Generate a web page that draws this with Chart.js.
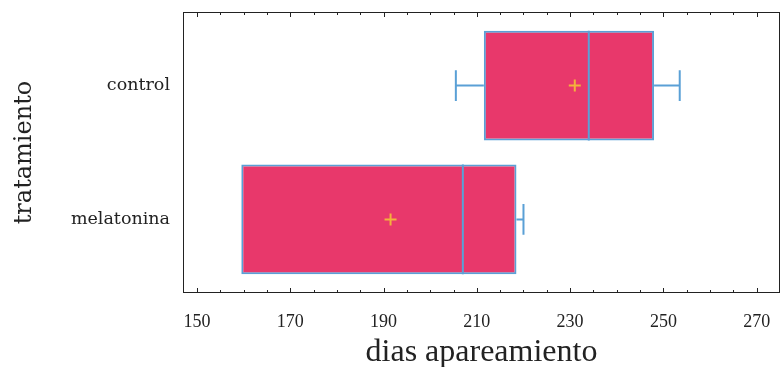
<!DOCTYPE html>
<html>
<head>
<meta charset="utf-8">
<script src="https://cdn.jsdelivr.net/npm/chart.js@4"></script>
<style>
  html, body { margin: 0; padding: 0; background: #fff; }
  #wrap { width: 784px; height: 367px; }
</style>
</head>
<body>
<div id="wrap"><canvas id="chart" width="784" height="367"></canvas></div>
<script>
// values (dias apareamiento)
const categories = ['control', 'melatonina'];
const whiskerLow = [205.5, 159.5];
const q1 = [211.5, 159.5];
const median = [234, 207];
const q3 = [248, 218.5];
const whiskerHigh = [253.5, 220];
const means = [231, 191.5];
const tickLabels = [150, 170, 190, 210, 230, 250, 270];

const FILL = '#e8386b';
const EDGE = '#5aa0d6';
const MEAN = '#f3b23c';
const SERIF = '"Liberation Serif", "DejaVu Serif", serif';
const WIDE_SERIF = '"DejaVu Serif", serif';

// whiskers, medians, means, frame and inward ticks
const boxExtras = {
  id: 'boxExtras',
  afterDatasetsDraw(chart) {
    const ctx = chart.ctx;
    const x = chart.scales.x;
    const area = chart.chartArea;
    const meta = chart.getDatasetMeta(0);
    ctx.save();
    meta.data.forEach((bar, i) => {
      const cy = bar.y;
      const h = bar.height;
      const cap = h * 0.14;
      ctx.strokeStyle = EDGE;
      ctx.lineWidth = 2;
      ctx.beginPath();
      if (whiskerLow[i] < q1[i]) {
        const a = x.getPixelForValue(whiskerLow[i]);
        const b = x.getPixelForValue(q1[i]);
        ctx.moveTo(a, cy); ctx.lineTo(b, cy);
        ctx.moveTo(a, cy - cap); ctx.lineTo(a, cy + cap);
      }
      if (whiskerHigh[i] > q3[i]) {
        const a = x.getPixelForValue(q3[i]);
        const b = x.getPixelForValue(whiskerHigh[i]);
        ctx.moveTo(a, cy); ctx.lineTo(b, cy);
        ctx.moveTo(b, cy - cap); ctx.lineTo(b, cy + cap);
      }
      const m = x.getPixelForValue(median[i]);
      ctx.moveTo(m, cy - h / 2); ctx.lineTo(m, cy + h / 2);
      ctx.stroke();

      const mx = x.getPixelForValue(means[i]);
      ctx.strokeStyle = MEAN;
      ctx.lineWidth = 2;
      ctx.beginPath();
      ctx.moveTo(mx - 6, cy); ctx.lineTo(mx + 6, cy);
      ctx.moveTo(mx, cy - 6); ctx.lineTo(mx, cy + 6);
      ctx.stroke();
    });

    ctx.strokeStyle = '#222';
    ctx.lineWidth = 1;
    ctx.strokeRect(area.left + 0.5, area.top + 0.5, area.right - area.left - 1, area.bottom - area.top - 1);
    ctx.beginPath();
    for (let v = 150; v <= 270; v += 5) {
      const px = Math.round(x.getPixelForValue(v)) + 0.5;
      const len = (v - 150) % 20 === 0 ? 5 : 3;
      ctx.moveTo(px, area.bottom); ctx.lineTo(px, area.bottom - len);
      ctx.moveTo(px, area.top); ctx.lineTo(px, area.top + len);
    }
    ctx.stroke();
    ctx.restore();
  }
};

new Chart(document.getElementById('chart'), {
  type: 'bar',
  data: {
    datasets: [{
      data: categories.map((c, i) => ({ y: i, x: [q1[i], q3[i]] })),
      backgroundColor: FILL,
      borderColor: EDGE,
      borderWidth: 2,
      borderSkipped: false,
      barPercentage: 0.82,
      categoryPercentage: 1
    }]
  },
  options: {
    indexAxis: 'y',
    responsive: false,
    animation: false,
    layout: { padding: { top: 12, right: 4, left: 0, bottom: 0 } },
    plugins: { legend: { display: false }, tooltip: { enabled: false } },
    scales: {
      x: {
        type: 'linear',
        min: 147,
        max: 275,
        afterBuildTicks: (s) => { s.ticks = tickLabels.map((v) => ({ value: v })); },
        afterFit: (s) => { s.height = 74; s.paddingLeft = 0; s.paddingRight = 0; },
        grid: { display: false },
        border: { display: false },
        ticks: { color: '#222', font: { family: SERIF, size: 18 }, padding: 10, maxRotation: 0 },
        title: { display: true, text: 'dias apareamiento', color: '#222', font: { family: SERIF, size: 32, lineHeight: 0.9 }, padding: 0 }
      },
      y: {
        type: 'linear',
        reverse: true,
        offset: false,
        min: -0.55,
        max: 1.55,
        afterBuildTicks: (s) => { s.ticks = categories.map((c, i) => ({ value: i })); },
        afterFit: (s) => { s.width = 183; s.paddingTop = 0; s.paddingBottom = 0; },
        grid: { display: false, offset: false },
        border: { display: false },
        ticks: { color: '#222', font: { family: WIDE_SERIF, size: 17.5 }, padding: 5, callback: (v) => categories[v] },
        title: { display: true, text: 'tratamiento', color: '#222', font: { family: WIDE_SERIF, size: 24 }, padding: { top: 10, bottom: 0 } }
      }
    }
  },
  plugins: [boxExtras]
});
</script>
</body>
</html>
